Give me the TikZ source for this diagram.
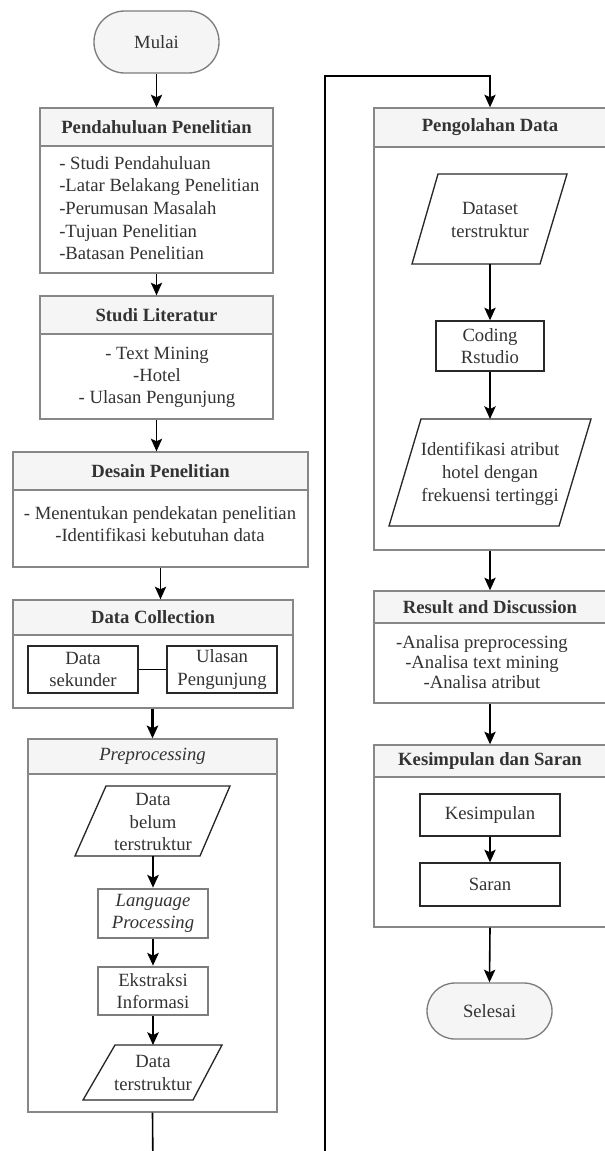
\documentclass[tikz,border=0pt]{standalone}
\usepackage{fontspec}
\setmainfont{Liberation Serif}
\usetikzlibrary{fit,arrows.meta}
\definecolor{bord}{RGB}{135,135,135}
\definecolor{headfill}{RGB}{245,245,245}
\definecolor{txt}{RGB}{51,51,51}
\definecolor{dark}{RGB}{40,40,40}
\definecolor{midgray}{RGB}{125,125,125}
\begin{document}
\begin{tikzpicture}[x=0.75pt,y=-0.75pt,
  every node/.style={font=\fontsize{14}{17}\selectfont, text=txt},
  bx/.style={draw=bord, line width=1pt, inner sep=0pt},
  hd/.style={bx, fill=headfill},
  ht/.style={font=\fontsize{14}{17}\selectfont\bfseries, inner sep=0pt},
  term/.style={draw=midgray, fill=headfill, line width=1pt, inner sep=0pt},
  par/.style={draw=dark, line width=1pt},
  thinbox/.style={draw=dark, line width=1pt, inner sep=0pt},
  darkbox/.style={draw=dark, line width=1.5pt, inner sep=0pt},
  graybox/.style={draw=midgray, line width=2pt, inner sep=0pt},
  tag/.style={inner sep=0pt, align=center},
  arr/.style={-{Stealth[length=9.5pt,width=8.5pt,inset=2pt]}, line width=1.2pt, black},
  arrb/.style={-{Stealth[length=9.5pt,width=8.5pt,inset=2pt]}, line width=1.8pt, black},
  conn/.style={line width=1.2pt, black}]
\useasboundingbox (0,0) rectangle (605,1151);
\clip (0,0) rectangle (605,1151);
\fill[white] (0,0) rectangle (605,1151);

% ---------- left column ----------
\node[term, rounded corners=23pt, fit={(94,11)(219,73)}] (mulai) {};
\node[tag] (mulait) at (mulai.center) {Mulai};

\node[bx, fit={(40,108)(273,273)}] (pend) {};
\node[hd, fit={(40,108)(273,146)}] (pendh) {};
\node[ht] (pendht) at (pendh.center) {Pendahuluan Penelitian};
\node[tag, align=left, anchor=west] (pendt) at (59,208)
  {- Studi Pendahuluan\\-Latar Belakang Penelitian\\-Perumusan Masalah\\-Tujuan Penelitian\\-Batasan Penelitian};

\node[bx, fit={(40,296)(273,419)}] (studi) {};
\node[hd, fit={(40,296)(273,334)}] (studih) {};
\node[ht] (studiht) at (studih.center) {Studi Literatur};
\node[tag, font=\fontsize{14}{16.5}\selectfont] (studit) at (157,377)
  {- Text Mining\\-Hotel\\- Ulasan Pengunjung};

\node[bx, fit={(13,452)(308,567)}] (desain) {};
\node[hd, fit={(13,452)(308,490)}] (desainh) {};
\node[ht] (desainht) at (desainh.center) {Desain Penelitian};
\node[tag] (desaint) at (160,524)
  {- Menentukan pendekatan penelitian\\-Identifikasi kebutuhan data};

\node[bx, fit={(13,600)(293,708)}] (dc) {};
\node[hd, fit={(13,600)(293,635)}] (dch) {};
\node[ht] (dcht) at (dch.center) {Data Collection};
\node[darkbox, fit={(28,646)(138,693)}] (ds) {};
\node[tag] (dst) at (ds.center) {Data\\sekunder};
\node[darkbox, fit={(167,646)(277,693)}] (up) {};
\node[tag] (upt) at (up.center) {Ulasan\\Pengunjung};

\node[bx, fit={(28,739)(277,1112)}] (pre) {};
\node[hd, fit={(28,739)(277,774)}] (preh) {};
\node[tag, font=\fontsize{14}{17}\selectfont\itshape] (preht) at (preh.center) {Preprocessing};

\draw[par] (106,786) -- (230,786) -- (200,856) -- (75,856) -- cycle;
\coordinate (dbtn) at (153,786);
\coordinate (dbts) at (153,856);
\node[tag] (dbt) at (153,822) {Data\\belum\\terstruktur};

\node[graybox, fit={(98,889)(208,938)}] (lp) {};
\node[tag, font=\fontsize{14}{17}\selectfont\itshape] (lpt) at (lp.center) {Language\\Processing};
\node[graybox, fit={(98,967)(208,1015)}] (ei) {};
\node[tag] (eit) at (ei.center) {Ekstraksi\\Informasi};

\draw[par] (115,1045) -- (222,1045) -- (193,1100) -- (83,1100) -- cycle;
\coordinate (dtn) at (153,1045);
\node[tag] (dt) at (153,1073) {Data\\terstruktur};

% ---------- right column ----------
\node[bx, fit={(374,108)(607,550)}] (peng) {};
\node[hd, fit={(374,108)(607,147)}] (pengh) {};
\node[ht] (pengt) at (490,127.5) {Pengolahan Data};

\draw[par] (438,174) -- (567,174) -- (540,264) -- (412,264) -- cycle;
\coordinate (dsets) at (490,264);
\node[tag] (dset) at (490,220) {Dataset\\terstruktur};

\node[thinbox, fit={(436,321)(544,371)}] (cod) {};
\node[tag] (codt) at (cod.center) {Coding\\Rstudio};

\draw[par] (421,419) -- (591,419) -- (559,526) -- (389,526) -- cycle;
\coordinate (identn) at (490,419);
\node[tag] (ident) at (490,474) {Identifikasi atribut\\hotel dengan\\frekuensi tertinggi};

\node[bx, fit={(374,591)(607,703)}] (res) {};
\node[hd, fit={(374,591)(607,623)}] (resh) {};
\node[ht] (rest) at (490,607) {Result and Discussion};
\node[tag, font=\fontsize{14}{15}\selectfont] (resb) at (482,662)
  {-Analisa preprocessing\\-Analisa text mining\\-Analisa atribut};

\node[bx, fit={(374,745)(607,927)}] (kes) {};
\node[hd, fit={(374,745)(607,777)}] (kesh) {};
\node[ht] (kest) at (490,761) {Kesimpulan dan Saran};
\node[thinbox, fit={(420,794)(560,836)}] (kesb) {};
\node[tag] (kesbt) at (kesb.center) {Kesimpulan};
\node[thinbox, fit={(420,863)(560,906)}] (sar) {};
\node[tag] (sart) at (sar.center) {Saran};

\node[term, rounded corners=21pt, fit={(427,983)(552,1039)}] (sel) {};
\node[tag] (selt) at (sel.center) {Selesai};

% ---------- connectors ----------
\draw[arr] (mulai.south) -- (pend.north);
\draw[arr] (pend.south) -- (studi.north);
\draw[arr] (studi.south) -- (studi.south |- desain.north);
\draw[arr] (desain.south) -- (desain.south |- dc.north);
\draw[conn] (ds.east) -- (up.west);
\draw[arrb] (pre.north |- dc.south) -- (pre.north);
\draw[arrb] (dbts) -- (lp.north);
\draw[arrb] (lp.south) -- (ei.north);
\draw[arrb] (ei.south) -- (dtn);
\coordinate (c1) at (153,1175);
\coordinate (c2) at (325,1175);
\coordinate (c3) at (325,76);
\coordinate (c4) at (490,76);
\draw[arr] (pre.south) -- (c1) -- (c2) -- (c3) -- (c4) -- (c4 |- peng.north);
\draw[arr] (dsets) -- (cod.north);
\draw[arr] (cod.south) -- (identn);
\draw[arr] (c4 |- peng.south) -- (c4 |- res.north);
\draw[arr] (c4 |- res.south) -- (c4 |- kes.north);
\draw[arr] (kesb.south) -- (sar.north);
\draw[arr] (c4 |- kes.south) -- (sel.north);
\end{tikzpicture}
\end{document}
